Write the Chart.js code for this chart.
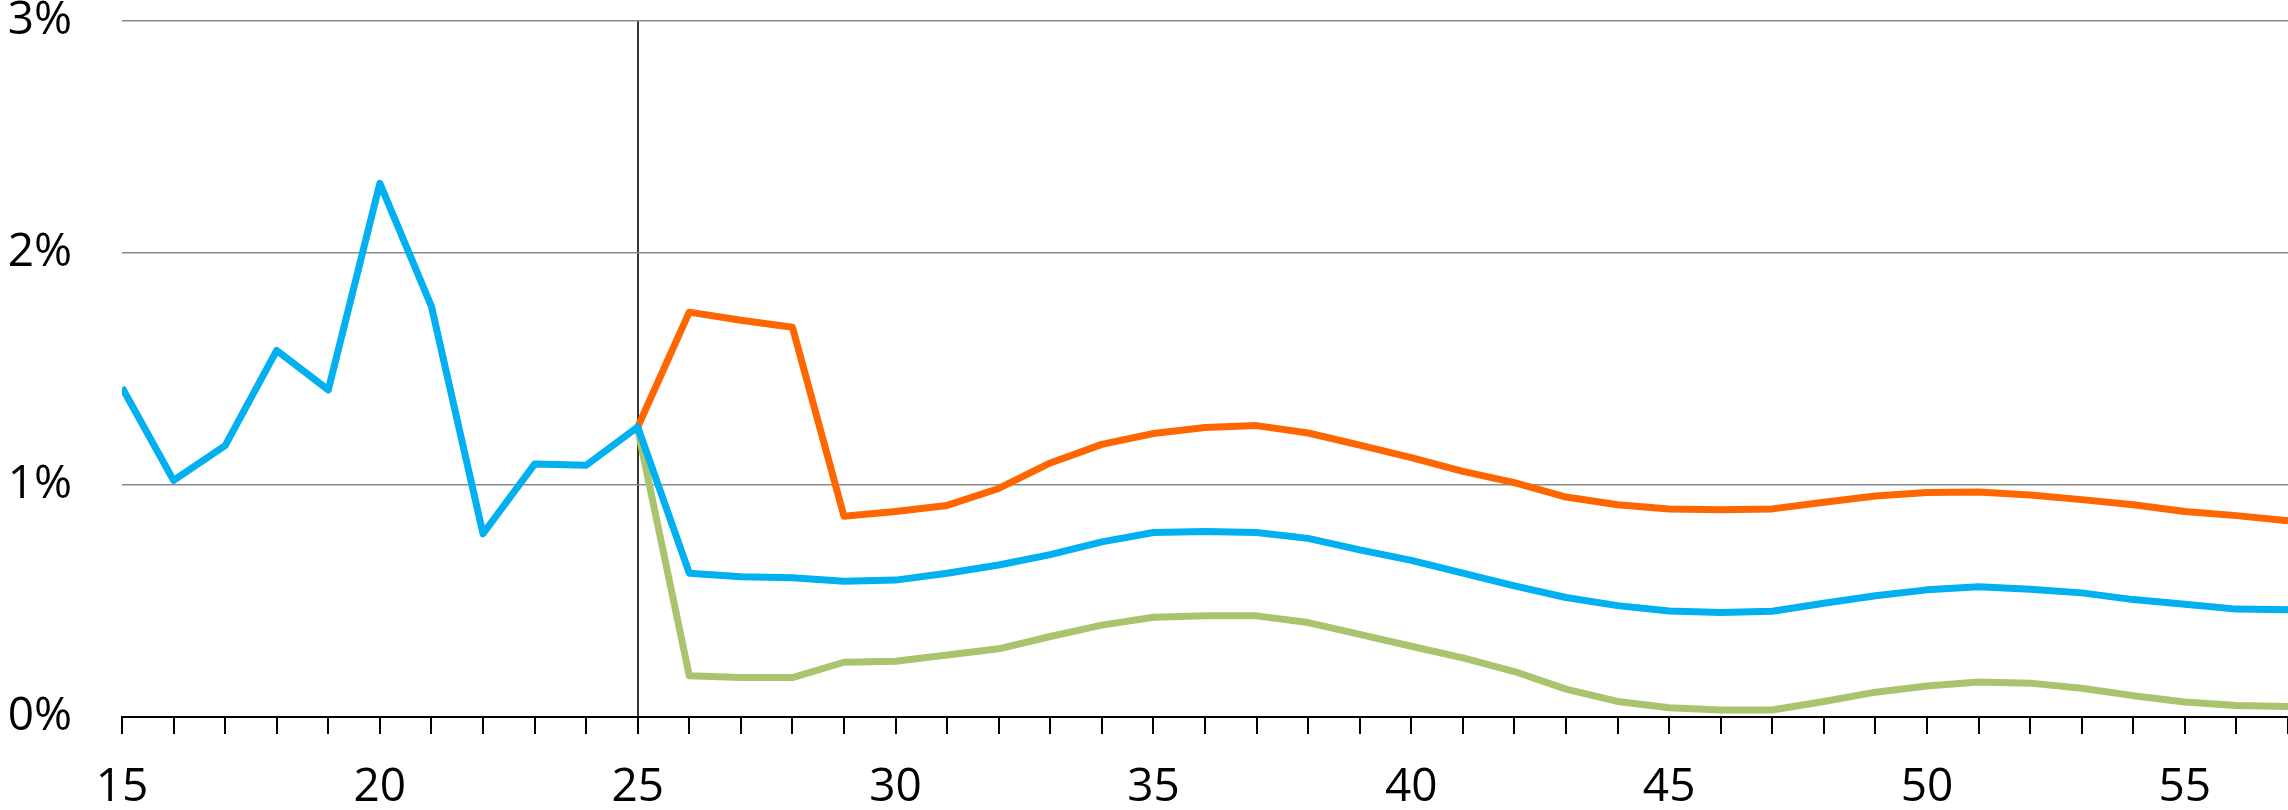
<!DOCTYPE html>
<html>
<head>
<meta charset="utf-8">
<script src="https://cdn.jsdelivr.net/npm/chart.js@4/dist/chart.umd.min.js"></script>
<style>
  html, body { margin: 0; padding: 0; background: #fff; overflow: hidden; }
  #wrap { width: 2288px; height: 810px; }
</style>
</head>
<body>
<div id="wrap"><canvas id="chart" width="2288" height="810"></canvas></div>
<script>
// age on the x axis, rate in percent on the y axis
const ages = [15, 16, 17, 18, 19, 20, 21, 22, 23, 24, 25, 26, 27, 28, 29, 30, 31, 32, 33, 34, 35, 36,
  37, 38, 39, 40, 41, 42, 43, 44, 45, 46, 47, 48, 49, 50, 51, 52, 53, 54, 55, 56, 57];

// blue: observed up to 25, then central path
const central = [1.42, 1.02, 1.17, 1.58, 1.41, 2.30, 1.77, 0.79, 1.09, 1.085, 1.25,
  0.62, 0.605, 0.60, 0.585, 0.59, 0.62, 0.655, 0.70, 0.755, 0.795, 0.80, 0.795, 0.77, 0.72,
  0.675, 0.62, 0.565, 0.515, 0.48, 0.457, 0.45, 0.456, 0.49, 0.523, 0.548, 0.561, 0.551,
  0.535, 0.506, 0.486, 0.465, 0.462];

// orange: upper path from 25
const upper = [null, null, null, null, null, null, null, null, null, null, 1.25,
  1.745, 1.71, 1.68, 0.865, 0.886, 0.912, 0.985, 1.095, 1.175, 1.222, 1.248, 1.256, 1.224, 1.172,
  1.118, 1.059, 1.01, 0.948, 0.915, 0.897, 0.893, 0.897, 0.926, 0.953, 0.968, 0.970, 0.957,
  0.937, 0.915, 0.886, 0.868, 0.846];

// green: lower path from 25
const lower = [null, null, null, null, null, null, null, null, null, null, 1.24,
  0.178, 0.17, 0.17, 0.236, 0.24, 0.267, 0.294, 0.347, 0.396, 0.43, 0.436, 0.436, 0.407, 0.356,
  0.305, 0.255, 0.196, 0.12, 0.067, 0.04, 0.03, 0.03, 0.067, 0.107, 0.134, 0.151, 0.146,
  0.124, 0.092, 0.065, 0.05, 0.045];

const yTicks = [0, 1, 2, 3];
const markerAge = 25;

const font = { family: '"Open Sans", "Noto Sans", sans-serif', size: 46 };

const line = (data, color, order) => ({
  data,
  borderColor: color,
  backgroundColor: color,
  borderWidth: 7,
  borderJoinStyle: 'round',
  pointRadius: 0,
  tension: 0,
  spanGaps: false,
  order,
});

new Chart(document.getElementById('chart').getContext('2d'), {
  type: 'line',
  data: {
    labels: ages,
    datasets: [
      line(central, '#00b0f0', 0),
      line(upper, '#ff6600', 1),
      line(lower, '#a9c46c', 2),
    ],
  },
  options: {
    responsive: false,
    devicePixelRatio: 1,
    animation: false,
    layout: { padding: { top: 21, left: 0, right: 0, bottom: 0 } },
    plugins: { legend: { display: false }, tooltip: { enabled: false } },
    scales: {
      x: {
        type: 'linear',
        min: 15,
        max: 57,
        afterFit: (s) => { s.height = 93; s.paddingLeft = 0; s.paddingRight = 0; },
        grid: {
          color: (ctx) => (ctx.tick && ctx.tick.value === markerAge ? '#333' : 'rgba(0,0,0,0)'),
          lineWidth: 2,
          tickColor: '#000',
          tickLength: 17,
          tickWidth: 2,
        },
        border: { display: true, color: '#000', width: 2 },
        ticks: {
          stepSize: 1,
          autoSkip: false,
          maxRotation: 0,
          padding: 26,
          color: '#000',
          font,
          callback: (v) => (v % 5 === 0 ? String(v) : ''),
        },
      },
      y: {
        min: 0,
        max: 3,
        afterFit: (s) => { s.width = 122; s.paddingTop = 0; s.paddingBottom = 0; },
        afterBuildTicks: (s) => { s.ticks = yTicks.map((v) => ({ value: v })); },
        grid: { color: '#8a8a8a', lineWidth: 1.5, drawTicks: false },
        border: { display: false },
        ticks: {
          padding: 50,
          color: '#000',
          font,
          callback: (v) => v + '%',
        },
      },
    },
  },
});
</script>
</body>
</html>
